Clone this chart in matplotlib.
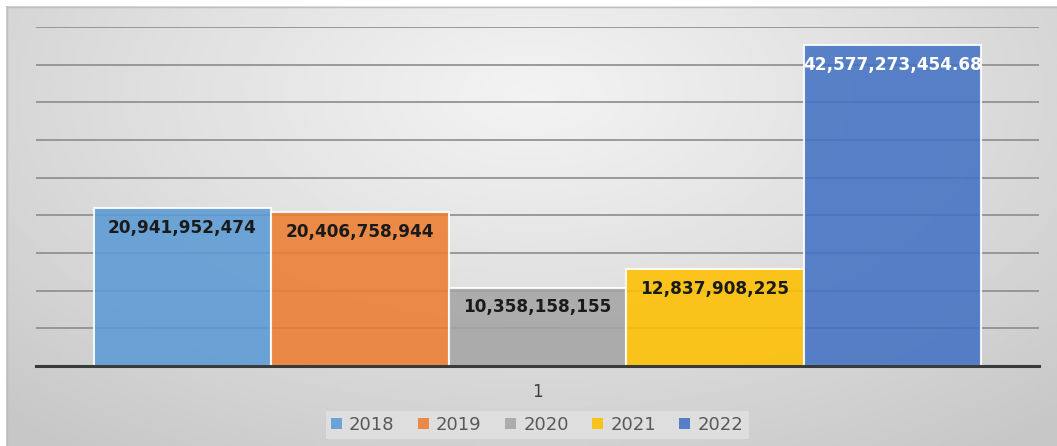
import numpy as np
import matplotlib
matplotlib.use("Agg")
import matplotlib.pyplot as plt
from matplotlib.patches import Patch

# ---- data ----
categories = ["1"]
series_names = ["2018", "2019", "2020", "2021", "2022"]
values = [20941952474, 20406758944, 10358158155, 12837908225, 42577273454.68]
value_labels = ["20,941,952,474", "20,406,758,944", "10,358,158,155",
                "12,837,908,225", "42,577,273,454.68"]
colors = ["#5B9BD5", "#ED7D31", "#A5A5A5", "#FFC000", "#4472C4"]
label_colors = ["#1a1a1a", "#1a1a1a", "#1a1a1a", "#1a1a1a", "#ffffff"]
y_ticks = [0, 5e9, 10e9, 15e9, 20e9, 25e9, 30e9, 35e9, 40e9, 45e9]

W, H = 1057, 446
fig = plt.figure(figsize=(W / 100, H / 100), dpi=100)
fig.patch.set_facecolor("white")

# background gradient panel
bg = fig.add_axes([6 / W, 0, 1 - 6 / W, 1 - 6 / H])
bg.set_axis_off()
ny, nx = 200, 400
yy, xx = np.mgrid[0:1:ny * 1j, 0:1:nx * 1j]
r = np.sqrt(((xx - 0.5) / 0.75) ** 2 + ((yy - 0.2) / 1.0) ** 2)
r = np.clip(r, 0, 1)
light, dark = 0.95, 0.78
img = light - (light - dark) * r ** 1.1
bg.imshow(img, cmap="gray", vmin=0, vmax=1, aspect="auto",
          extent=[0, 1, 1, 0], interpolation="bilinear")
bg.set_xlim(0, 1)
bg.set_ylim(1, 0)
bg.plot([0, 1], [0.002, 0.002], color="#bfbfbf", lw=1)
bg.plot([0.001, 0.001], [0, 1], color="#bfbfbf", lw=1)

ax = fig.add_axes([36 / W, 1 - 366 / H, (1039 - 36) / W, (366 - 27) / H])
ax.patch.set_alpha(0)
width = 0.177
n = len(series_names)
x0 = np.arange(len(categories))
for i, (name, v, c) in enumerate(zip(series_names, values, colors)):
    xpos = x0 + (i - (n - 1) / 2) * width
    bars = ax.bar(xpos, [v], width=width, color=c, alpha=0.88,
                  edgecolor="white", linewidth=1.5, label=name, zorder=2)
    for b in bars:
        ax.annotate(value_labels[i], (b.get_x() + b.get_width() / 2, b.get_height()),
                    xytext=(0, -14), textcoords="offset points",
                    ha="center", va="center", fontsize=12.2, fontweight="bold",
                    color=label_colors[i], zorder=3)

ax.set_xlim(-0.5, 0.5)
ax.set_ylim(0, 45e9)
ax.set_yticks(y_ticks)
ax.set_yticklabels([])
ax.yaxis.grid(True, color="#8c8c8c", linewidth=1.2)
ax.set_axisbelow(True)
ax.tick_params(axis="both", length=0)
ax.set_xticks(x0)
ax.set_xticklabels(categories, fontsize=12, color="#404040")
ax.tick_params(axis="x", pad=12)
for s in ["top", "right", "left"]:
    ax.spines[s].set_visible(False)
ax.spines["bottom"].set_color("#3a3a3a")
ax.spines["bottom"].set_linewidth(2.2)
ax.spines["bottom"].set_zorder(4)

handles = [Patch(facecolor=c, alpha=0.88, edgecolor="none") for c in colors]
leg = fig.legend(handles, series_names, loc="center",
                 bbox_to_anchor=(537 / W, 1 - 425 / H), ncol=5,
                 frameon=True, facecolor="#dedede", edgecolor="none",
                 framealpha=1, fancybox=False, fontsize=13,
                 handlelength=0.6, handleheight=0.6, handletextpad=0.4,
                 columnspacing=1.3, borderpad=0.3)
for t in leg.get_texts():
    t.set_color("#595959")

fig.savefig("out.png", dpi=100, facecolor=fig.get_facecolor())
